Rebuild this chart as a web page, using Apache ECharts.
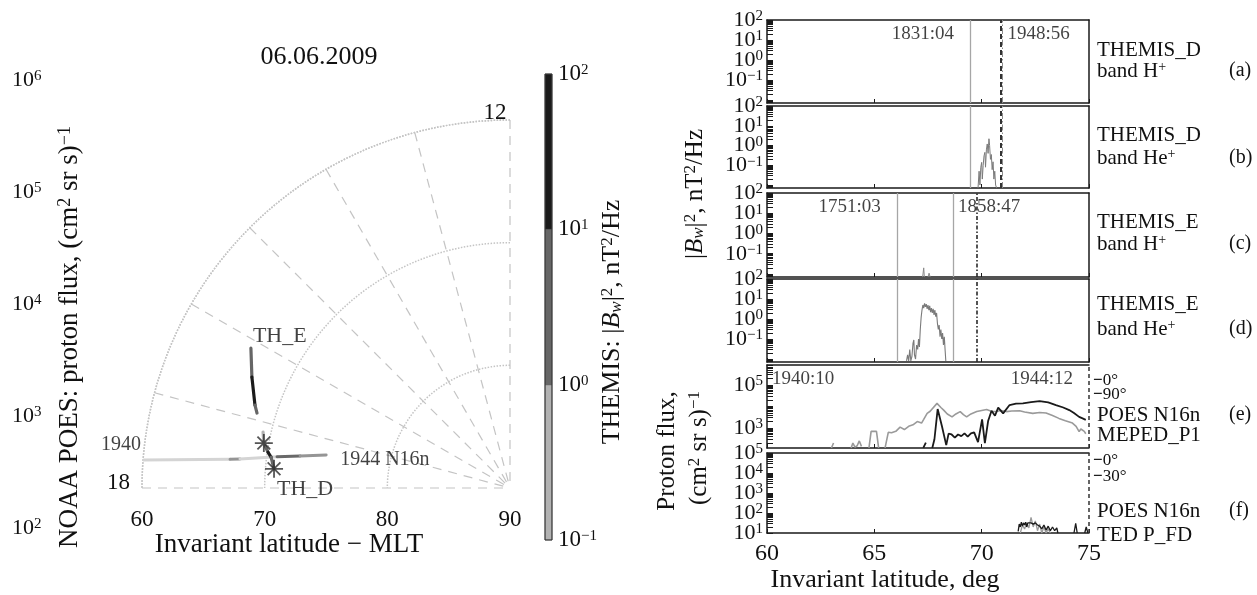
<!DOCTYPE html>
<html><head><meta charset="utf-8">
<script src="https://cdn.jsdelivr.net/npm/echarts@6/dist/echarts.min.js"></script>
<style>html,body{margin:0;padding:0;background:#fff}#c{width:1257px;height:595px}</style>
</head><body><div id="c"></div>
<script>
// ================= DATA =================
// Left polar plot: tracks as [invariant latitude, MLT, value]
const poesTrack = [[60.0,17.71,300],[67.06,17.61,650],[67.86,17.59,300],[70.84,17.49,1100],[72.69,17.42,650],[74.77,17.32,650]];
const thETrack  = [[66.0,16.11,2],[67.1,16.45,30],[68.14,16.80,3],[68.49,16.90,3],null,[69.36,17.15,0.6],[69.6,17.31,0.6]];
const thDTrack  = [[69.75,17.35,2],[70.06,17.44,30],[70.36,17.51,2],[70.7,17.69,2]];
const thStars   = [[69.6,17.31],[70.7,17.69]];
const polarLabels = [
  {p:[66.0,16.11],  text:'TH_E', where:'thE'},
  {p:[70.7,17.69],  text:'TH_D', where:'thD'},
  {p:[60.0,17.71],  text:'1940', where:'start'},
  {p:[74.77,17.32], text:'1944 N16n', where:'end'}
];
const fluxExp = [2,3,4,5,6];                 // left axis: 10^2 .. 10^6
const cbLevels = [[-1,0],[0,1],[1,2]];       // colorbar bands, log10 |Bw|^2
const cbColors = ['#b2b2b2','#666666','#1b1b1b'];
const cbTicks = [-1,0,1,2];

// Right panels: [invariant latitude, value]
const thdHe = [[69.83,0.007],[69.88,0.05],[69.92,0.01],[69.96,0.08],[70.0,0.14],[70.03,0.02],[70.07,0.1],[70.11,0.3],[70.15,0.45],[70.18,0.08],[70.22,0.6],[70.26,1.2],[70.3,0.4],[70.34,2.2],[70.37,1.0],[70.41,0.2],[70.45,0.35],[70.49,0.06],[70.53,0.15],[70.57,0.02],[70.61,0.05],[70.65,0.01],[70.7,0.007]];
const theH = [[67.25,0.007],[67.3,0.02],[67.33,0.007],null,[67.5,0.007],[67.55,0.011],[67.6,0.007]];
const theHe = [[66.5,0.008],[66.55,0.016],[66.6,0.008],[66.65,0.03],[66.7,0.008],[66.75,0.013],[66.8,0.06],[66.84,0.09],[66.87,0.016],[66.92,0.01],[66.97,0.05],[67.02,0.03],[67.06,0.1],[67.1,0.04],[67.14,0.3],[67.18,1.2],[67.22,2.8],[67.26,5.0],[67.3,3.5],[67.34,6.0],[67.38,4.0],[67.42,5.6],[67.46,3.2],[67.5,5.0],[67.54,2.8],[67.58,4.5],[67.62,2.2],[67.66,3.5],[67.7,2.0],[67.74,3.2],[67.78,1.6],[67.82,2.8],[67.86,1.3],[67.9,2.0],[67.94,0.6],[67.98,0.3],[68.02,0.5],[68.06,0.13],[68.1,0.3],[68.14,0.1],[68.18,0.2],[68.22,0.05],[68.26,0.13],[68.3,0.025],[68.33,0.008]];
const poesE0 = [[67.28,118],[67.4,210],null,[67.7,118],[67.8,300],[67.95,7600],[68.15,1200],[68.35,160],[68.46,550],[68.6,500],[68.75,360],[68.9,500],[69.05,420],[69.2,560],[69.35,400],[69.5,560],[69.65,630],[69.83,220],[70.02,2500],[70.15,200],[70.3,2100],[70.46,6300],[70.62,3700],[70.77,8900],[71.0,4800],[71.3,11700],[71.6,13500],[71.92,14100],[72.3,16000],[72.7,17800],[73.1,15500],[73.46,11700],[73.8,9000],[74.08,6800],[74.3,5000],[74.54,3300],[74.7,2800],[74.85,2400]];
const poesE90 = [[63.0,118],[63.1,200],null,[63.92,118],[64.0,200],[64.1,130],[64.2,150],[64.3,250],[64.4,140],null,[64.75,118],[64.85,700],[65.1,700],[65.2,118],null,[65.5,118],[65.65,630],[65.8,600],[66.0,700],[66.2,1100],[66.4,850],[66.6,1200],[66.8,1400],[67.0,2000],[67.2,1700],[67.3,2500],[67.46,4800],[67.6,6000],[67.92,14000],[68.1,9000],[68.23,6800],[68.4,4500],[68.62,3300],[68.8,4500],[69.0,5800],[69.15,4200],[69.3,3300],[69.5,4500],[69.77,5800],[70.0,6500],[70.23,7200],[70.45,6000],[70.69,5800],[70.9,6500],[71.15,5800],[71.4,6200],[71.77,6300],[72.0,5500],[72.38,4800],[72.7,5300],[73.0,5000],[73.3,3800],[73.6,2800],[73.9,2200],[74.23,1700],[74.4,1200],[74.54,680],[74.62,900],[74.69,1000],[74.78,700],[74.85,540]];
const poesF0 = [[71.7,12],[71.75,28],[71.8,20],[71.85,35],[71.9,22],[71.95,32],[72.0,25],[72.05,35],[72.1,20],[72.15,32],[72.2,28],[72.3,32],[72.4,28],[72.5,32],[72.6,25],[72.7,22],[72.8,16],[72.9,25],[73.0,14],[73.1,22],[73.2,13],[73.3,20],[73.4,13],[73.5,18],[73.55,10],null,[74.3,10],[74.38,30],[74.45,10],null,[74.8,10],[74.87,20],[74.95,10]];
const poesF30 = [[71.8,10],[71.9,25],[72.0,16],[72.1,32],[72.2,18],[72.3,60],[72.4,20],[72.5,40],[72.6,13],[72.7,28],[72.8,10],[72.9,20],[73.0,10],[73.1,16],[73.2,10]];
// Time markers (vertical lines)
const thDMarks = [[69.46,'1831:04'],[70.97,'1948:56']];
const thEMarks = [[66.05,'1751:03'],[68.66,'1858:47']];
const poesMarks = [[60,'1940:10'],[75,'1944:12']];
const thDSpike = 70.88;
const thEPass = 69.77;

// ================= HELPERS =================
const FONT = 'Liberation Serif';
const C = '#111';
const expStr = e => (e < 0 ? '\u2212' + (-e) : String(e));
function rich(base, sup, raise) {
  return {
    b:{fontFamily:FONT,fontSize:base,color:C,verticalAlign:'bottom',lineHeight:base,padding:[raise,0,0,0]},
    i:{fontFamily:FONT,fontSize:base,color:C,fontStyle:'italic',verticalAlign:'bottom',lineHeight:base,padding:[raise,0,0,0]},
    s:{fontFamily:FONT,fontSize:sup,color:C,verticalAlign:'top',lineHeight:sup},
    w:{fontFamily:FONT,fontSize:sup,color:C,fontStyle:'italic',verticalAlign:'bottom',lineHeight:sup},
    k:{fontFamily:FONT,fontSize:base,color:'#111',fontWeight:'bold',verticalAlign:'bottom',lineHeight:base,padding:[raise,0,0,0]},
    g:{fontFamily:FONT,fontSize:base,color:'#9a9a9a',fontWeight:'bold',verticalAlign:'bottom',lineHeight:base,padding:[raise,0,0,0]}
  };
}
const pow10 = e => `{b|10}{s|${expStr(e)}}`;
const lg = d => d === null ? '-' : [d[0], Math.log10(d[1])];
function logTicks(lo, hi) {
  const t = [];
  for (let n = Math.floor(lo); n <= Math.ceil(hi); n++)
    for (let k = 1; k <= 9; k++) { const v = n + Math.log10(k); if (v >= lo && v <= hi) t.push(v); }
  return t;
}
function bandColor(v) { const l = Math.log10(v); return l < 0 ? cbColors[0] : (l < 1 ? cbColors[1] : cbColors[2]); }
function fluxColor(v) { const l = Math.log10(v); const g = Math.round(Math.max(90, Math.min(212, 212 - (l - 2.48) * 190))); return `rgb(${g},${g},${g})`; }

// ================= OPTION =================
const grids = [], xAxes = [], yAxes = [], series = [], graphic = [], extraY = [];

// ---- right panels ----
const panels = [
  {top:20,  h:83, yr:[-2.15,2],   lab:[2,1,0,-1]},
  {top:106, h:82, yr:[-2.15,2],   lab:[2,1,0,-1]},
  {top:193, h:84, yr:[-2.15,2],   lab:[2,1,0,-1]},
  {top:279, h:83, yr:[-2.15,2],   lab:[2,1,0,-1]},
  {top:365, h:83, yr:[2.07,5.93], lab:[5,3]},
  {top:453, h:80, yr:[1,5],       lab:[5,4,3,2,1]}
];
const RL = 767, RW = 322;
const axLine = {show:true, onZero:false, lineStyle:{color:'#1a1a1a', width:1.5}};
const yLabelStyle = vals => ({show:true, customValues:vals, interval:0, showMinLabel:true, showMaxLabel:true, hideOverlap:false,
  formatter:v => pow10(Math.round(v)), rich:rich(22,15,8), margin:4});
panels.forEach((p, i) => {
  grids.push({left:RL, top:p.top, width:RW, height:p.h});
  const last = i === panels.length - 1;
  xAxes.push({gridIndex:i, type:'value', min:60, max:75, interval:5, position:'bottom',
    axisLine:axLine, axisTick:{show:true, inside:true, length:4, lineStyle:{color:'#1a1a1a'}},
    axisLabel:{show:last, fontFamily:FONT, fontSize:24, color:C, margin:9},
    splitLine:{show:false},
    name: last ? 'Invariant latitude, deg' : '', nameLocation:'middle', nameGap:33,
    nameTextStyle:{fontFamily:FONT, fontSize:26, color:C, padding:[0,86,0,0]}});
  xAxes.push({gridIndex:i, type:'value', min:60, max:75, position:'top', axisLine:axLine,
    axisTick:{show:false}, axisLabel:{show:false}, splitLine:{show:false}});
  // labels split over two coincident axes so neighbouring exponents never get hidden
  const even = p.lab.filter((_, k) => k % 2 === 0), odd = p.lab.filter((_, k) => k % 2 === 1);
  yAxes.push({gridIndex:i, type:'value', min:p.yr[0], max:p.yr[1], position:'left', axisLine:axLine,
    axisTick:{show:true, inside:true, length:6, customValues:logTicks(p.yr[0], p.yr[1]), lineStyle:{color:'#1a1a1a'}},
    axisLabel:yLabelStyle(even), splitLine:{show:false}});
  yAxes.push({gridIndex:i, type:'value', min:p.yr[0], max:p.yr[1], position:'right',
    axisLine: i >= 4 ? {show:false} : axLine, axisTick:{show:false}, axisLabel:{show:false}, splitLine:{show:false}});
  if (odd.length) extraY.push({gridIndex:i, type:'value', min:p.yr[0], max:p.yr[1], position:'left', offset:0,
    axisLine:{show:false}, axisTick:{show:false}, axisLabel:yLabelStyle(odd), splitLine:{show:false}});
});
function trace(pi, data, color, width) {
  series.push({type:'line', xAxisIndex:2*pi, yAxisIndex:2*pi, data:data.map(lg), showSymbol:false, symbol:'none',
    lineStyle:{color, width:width||1.2}, silent:true, animation:false, connectNulls:false, z:3});
}
trace(1, thdHe, '#7a7a7a', 1);
trace(2, theH, '#8a8a8a', 1);
trace(3, theHe, '#7a7a7a', 1.1);
trace(4, poesE90, '#9a9a9a', 1.6);
trace(4, poesE0, '#1a1a1a', 1.8);
trace(5, poesF30, '#9a9a9a', 1.3);
trace(5, poesF0, '#1a1a1a', 1.3);

const solidGray = {color:'#a6a6a6', width:1.3, type:'solid'};
function markers(pi, lines, labels, sides) {
  const p = panels[pi];
  series.push({type:'scatter', xAxisIndex:2*pi, yAxisIndex:2*pi, symbolSize:0, silent:true, animation:false, z:6,
    data: labels.map((m, j) => ({value:[m[0], p.yr[1]], label:{show:true, formatter:m[1], position:sides[j],
      distance: sides[j] === 'left' ? 16 : 5, offset:[0, 14], fontFamily:FONT, fontSize:19, color:C}})),
    markLine:{silent:true, symbol:'none', animation:false, label:{show:false},
      data: lines.map(l => ({xAxis:l[0], lineStyle:l[1]}))}});
}
const thDLines = [[thDMarks[0][0], solidGray], [thDSpike, {color:'#333', width:2, type:[5,3]}], [thDMarks[1][0], {color:'#8c8c8c', width:1, type:[6,2,1.5,2]}]];
markers(0, thDLines, thDMarks, ['left','right']);
markers(1, thDLines, [], []);
const thELines = [[thEMarks[0][0], solidGray], [thEMarks[1][0], solidGray], [thEPass, {color:'#2a2a2a', width:1.6, type:[4,2,1.5,2]}]];
markers(2, thELines, thEMarks, ['left','right']);
markers(3, thELines, [], []);
const poesLines = [[poesMarks[1][0], {color:'#333', width:1.5, type:[4,3]}]];
markers(4, poesLines, poesMarks, ['right','left']);
markers(5, poesLines, [], []);

// ---- polar geometry ----
const PC = [510, 488], PR = 368;

// ---- grid 6: radial latitude labels for polar ----
grids.push({left:PC[0]-PR, top:PC[1]-88, width:PR, height:88});
xAxes.push({gridIndex:6, type:'value', min:60, max:90, interval:10, axisLine:{show:false}, axisTick:{show:false},
  axisLabel:{fontFamily:FONT, fontSize:23, color:C, margin:20}, splitLine:{show:false},
  name:'Invariant latitude \u2212 MLT', nameLocation:'middle', nameGap:42,
  nameTextStyle:{fontFamily:FONT, fontSize:27, color:C, padding:[0,74,0,0]}});
yAxes.push({gridIndex:6, type:'value', show:false});

// ---- grid 7: NOAA POES flux axis labels ----
grids.push({left:95, top:80, width:10, height:448});
xAxes.push({gridIndex:7, type:'value', show:false});
yAxes.push({gridIndex:7, type:'value', min:fluxExp[0], max:fluxExp[fluxExp.length-1], interval:1, axisLine:{show:false}, axisTick:{show:false},
  axisLabel:{formatter:v => pow10(v), rich:rich(22,15,9), align:'left', margin:83, showMinLabel:true, showMaxLabel:true}, splitLine:{show:false}});

// ---- grid 8: colorbar ----
const CBI = xAxes.length;
grids.push({left:545, top:74, width:7, height:466, show:true, borderColor:'#333', borderWidth:1, backgroundColor:'transparent', z:3});
xAxes.push({gridIndex:8, type:'value', min:0, max:1, show:false});
yAxes.push({gridIndex:8, type:'value', min:cbTicks[0], max:cbTicks[cbTicks.length-1], interval:1, position:'right',
  axisLine:{show:false}, axisTick:{show:false}, splitLine:{show:false},
  axisLabel:{formatter:v => pow10(v), rich:rich(23,15,9), margin:6, showMinLabel:true, showMaxLabel:true}});
series.push({type:'custom', xAxisIndex:CBI, yAxisIndex:CBI, silent:true, animation:false, z:2, clip:false,
  data: cbLevels.map((b, i) => [b[0], b[1], i]),
  renderItem:(params, api) => {
    const lo = api.coord([0, api.value(0)]), hi = api.coord([1, api.value(1)]);
    return {type:'rect', shape:{x:lo[0], y:hi[1], width:hi[0]-lo[0], height:lo[1]-hi[1]},
      style:{fill:cbColors[api.value(2)], stroke:'#555', lineWidth:0.6}};
  }});
extraY.forEach(a => yAxes.push(a));

// ---- polar tracks ----
function track(tr, colorFn, width) {
  for (let i = 0; i < tr.length - 1; i++) {
    const a = tr[i], b = tr[i+1];
    if (!a || !b) continue;
    series.push({type:'line', coordinateSystem:'polar', polarIndex:0, data:[[a[0],a[1]],[b[0],b[1]]], showSymbol:false, symbol:'none',
      silent:true, animation:false, z:5, lineStyle:{color:colorFn(a[2]), width, cap:'round'}});
  }
}
track(poesTrack, fluxColor, 3);
track(thETrack, bandColor, 3.2);
track(thDTrack, bandColor, 3.2);
const star = 'path://M-1,-10 L1,-10 L1,10 L-1,10 Z M-10,-1 L10,-1 L10,1 L-10,1 Z M-7.8,-6.4 L-6.4,-7.8 L7.8,6.4 L6.4,7.8 Z M6.4,-7.8 L7.8,-6.4 L-6.4,7.8 L-7.8,6.4 Z';
series.push({type:'scatter', coordinateSystem:'polar', polarIndex:0, data:thStars, symbol:star, symbolSize:18,
  itemStyle:{color:'#2a2a2a'}, silent:true, animation:false, z:7});
const labPos = {thE:{position:[2,-12], align:'left', size:22}, thD:{position:[3,20], align:'left', size:22},
  start:{position:[-2,-15], align:'right', size:20}, end:{position:[14,5], align:'left', size:20}};
series.push({type:'scatter', coordinateSystem:'polar', polarIndex:0, symbolSize:0, silent:true, animation:false, z:8,
  data: polarLabels.map(l => ({value:l.p, label:{show:true, formatter:l.text, position:labPos[l.where].position,
    align:labPos[l.where].align, verticalAlign:'middle', fontFamily:FONT, fontSize:labPos[l.where].size, color:C}}))});

// ---- text annotations ----
function txt(x, y, text, size, o) {
  o = o || {};
  graphic.push({type:'text', x, y, rotation:o.rot || 0, z:20, silent:true,
    style:{text, fontFamily:FONT, fontSize:size, fill:C, align:o.align || 'left', verticalAlign:'middle', rich:o.rich}});
}
txt(319, 57, '06.06.2009', 26, {align:'center'});
txt(70, 337, '{b|NOAA POES: proton flux, (cm}{s|2}{b| sr s)}{s|\u22121}', 27, {align:'center', rot:Math.PI/2, rich:rich(27,18,9)});
txt(612, 322, '{b|THEMIS: |}{i|B}{w|w}{b||}{s|2}{b|, nT}{s|2}{b|/Hz}', 26, {align:'center', rot:Math.PI/2, rich:rich(26,17,9)});
txt(695, 194, '{b||}{i|B}{w|w}{b||}{s|2}{b|, nT}{s|2}{b|/Hz}', 25, {align:'center', rot:Math.PI/2, rich:rich(25,17,9)});
txt(667, 451, 'Proton flux,', 25, {align:'center', rot:Math.PI/2});
txt(699, 448, '{b|(cm}{s|2}{b| sr s)}{s|\u22121}', 25, {align:'center', rot:Math.PI/2, rich:rich(25,17,9)});
const RX = 1097, PX = 1229;
const rs = rich(21,14,7);
[['THEMIS_D','H',50,71,'(a)'],['THEMIS_D','He',135,158,'(b)'],['THEMIS_E','H',222,244,'(c)'],['THEMIS_E','He',304,329,'(d)']].forEach(r => {
  txt(RX, r[2], r[0], 21);
  txt(RX, r[3], `{b|band ${r[1]}}{s|+}`, 21, {rich:rs});
  txt(PX, r[3], r[4], 20);
});
const rl = rich(17,12,0);
txt(1093, 381, '{k|\u2212}{b|0\u00b0}', 17, {rich:rl});
txt(1093, 395, '{g|\u2212}{b|90\u00b0}', 17, {rich:rl});
txt(RX, 415, 'POES N16n', 21); txt(PX, 415, '(e)', 20);
txt(RX, 435, 'MEPED_P1', 21);
txt(1093, 461, '{k|\u2212}{b|0\u00b0}', 17, {rich:rl});
txt(1093, 477, '{g|\u2212}{b|30\u00b0}', 17, {rich:rl});
txt(RX, 511, 'POES N16n', 21); txt(PX, 511, '(f)', 20);
txt(RX, 535, 'TED P_FD', 21);

const option = {
  animation:false, backgroundColor:'#fff',
  polar:{center:PC, radius:PR},
  angleAxis:{type:'value', min:12, max:18, interval:1, startAngle:90, endAngle:180, clockwise:false,
    axisLine:{show:true, lineStyle:{color:'#c4c4c4', type:'dotted', width:1.5}}, axisTick:{show:false},
    splitLine:{show:true, lineStyle:{color:'#c4c4c4', type:[9,7], width:1.2}},
    axisLabel:{formatter:v => v === 12 ? '{t|12}' : (v === 18 ? '{l|18}' : ''), margin:-4,
      rich:{t:{fontFamily:FONT, fontSize:23, color:C, padding:[0,30,0,0]}, l:{fontFamily:FONT, fontSize:23, color:C, padding:[0,16,10,0]}}}},
  radiusAxis:{type:'value', min:60, max:90, interval:10, inverse:true, axisLine:{show:false}, axisTick:{show:false},
    axisLabel:{show:false}, splitLine:{show:true, lineStyle:{color:'#c4c4c4', type:'dotted', width:1.5}}},
  grid:grids, xAxis:xAxes, yAxis:yAxes, series, graphic
};
const chart = echarts.init(document.getElementById('c'));
chart.setOption(option);
</script></body></html>
